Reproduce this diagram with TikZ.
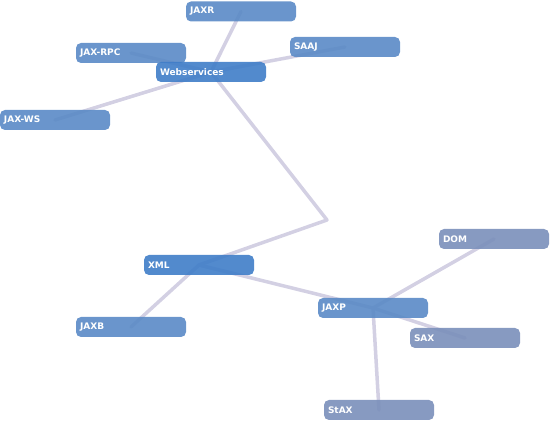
\documentclass[tikz,border=0pt]{standalone}
\usepackage{fontspec}
\setmainfont{DejaVu Sans}
\usetikzlibrary{backgrounds}
\definecolor{hubblue}{HTML}{3F7DC8}
\definecolor{midblue}{HTML}{5A8AC6}
\definecolor{grayblue}{HTML}{7A8FBA}
\definecolor{linkcol}{HTML}{D3D0E3}
\tikzset{
  box/.style={rectangle, rounded corners=5pt, minimum width=110pt, minimum height=20pt,
    text width=102pt, inner sep=4pt, align=left, text=white, opacity=0.9, text opacity=1,
    font=\fontsize{9}{10}\selectfont\bfseries},
  hub/.style={box, fill=hubblue},
  leaf/.style={box, fill=midblue},
  leafgray/.style={box, fill=grayblue},
  link/.style={draw=linkcol, line width=3.5pt, line cap=round, line join=round}
}
\begin{document}
\begin{tikzpicture}[x=1pt, y=-1pt]
\useasboundingbox (0,0) rectangle (550,422);
\node[leaf] (jaxr) at (241,11.5) {JAXR};
\node[leaf] (jaxrpc) at (131,53) {JAX-RPC};
\node[leaf] (saaj) at (345,47) {SAAJ};
\node[hub] (web) at (211,72) {Webservices};
\node[leaf] (jaxws) at (55,120) {JAX-WS};
\node[hub] (xml) at (199,265) {XML};
\node[leaf] (jaxb) at (131,327) {JAXB};
\node[leaf] (jaxp) at (373,308) {JAXP};
\node[leafgray] (dom) at (494,239) {DOM};
\node[leafgray] (sax) at (465,338) {SAX};
\node[leafgray] (stax) at (379,410) {StAX};
\coordinate (bend) at (327,220);
\begin{pgfonlayer}{background}
\draw[link] (web.center) -- (jaxr.center);
\draw[link] (web.center) -- (jaxrpc.center);
\draw[link] (web.center) -- (saaj.center);
\draw[link] (web.center) -- (jaxws.center);
\draw[link] (web.center) -- (bend) -- (xml.center);
\draw[link] (xml.center) -- (jaxb.center);
\draw[link] (xml.center) -- (jaxp.center);
\draw[link] (jaxp.center) -- (dom.center);
\draw[link] (jaxp.center) -- (sax.center);
\draw[link] (jaxp.center) -- (stax.center);
\end{pgfonlayer}
\end{tikzpicture}
\end{document}
